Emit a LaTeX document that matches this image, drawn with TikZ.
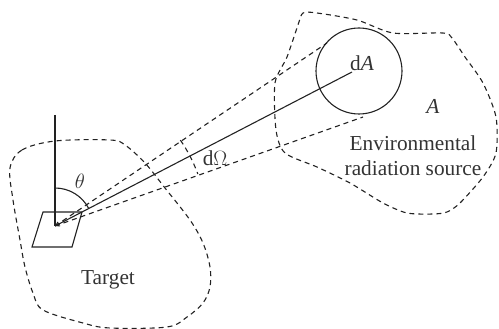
\documentclass[tikz,border=0pt]{standalone}
\usepackage{fontspec}
\setmainfont{Liberation Serif}
\usetikzlibrary{arrows.meta}
\definecolor{ink}{HTML}{222222}
\definecolor{txt}{HTML}{333333}
\tikzset{
  blob/.style={draw=ink, line width=1.1pt, dash pattern=on 5pt off 4pt},
  ray/.style={draw=ink, line width=1.1pt},
  dray/.style={draw=ink, line width=1.1pt, dash pattern=on 5pt off 4pt},
  lbl/.style={text=txt, inner sep=0pt, font=\fontsize{21.3}{25}\selectfont}
}
\begin{document}
\begin{tikzpicture}[x=1pt, y=-1pt]
\useasboundingbox (0,0) rectangle (499,329);
% target region
\draw[blob] plot[smooth cycle, tension=0.55] coordinates {
 (10,168) (22,150) (55,141) (110,140) (125,145) (145,163) (165,188) (190,220)
 (203,243) (210,267) (210,287) (203,303) (187,317) (167,327) (110,328) (83,323)
 (43,310) (33,293) (25,267) (20,240) (13,200)};
% source region
\draw[blob] plot[smooth cycle, tension=0.45] coordinates {
 (303,13) (317,13) (357,20) (393,33) (443,33) (452,38) (465,57) (483,83)
 (496,117) (496,153) (483,177) (460,203) (447,212) (433,214) (407,213)
 (383,203) (350,183) (317,167) (285,153) (276,130) (275,83) (287,57) (298,25)};
% geometry
\coordinate (O) at (55,226);
\coordinate (N) at (55,115);
\coordinate (P) at (352,72);
\coordinate (T1) at (327,43);
\coordinate (T2) at (363,117);
\node[circle, draw=ink, line width=1.1pt, minimum size=86pt, inner sep=0pt] (C) at (359,71) {};
% surface element
\draw[ray] (43,212) -- (82,212) -- (72,247) -- (32,247) -- cycle;
\draw[ray] (N) -- (O);
% rays
\draw[ray, -{Straight Barb[length=3.5pt, width=4.5pt]}] (P) -- (O);
\draw[dray] (O) -- (T1);
\draw[dray] (O) -- (T2);
% angles
\draw[ray] (O) ++(-90:38) arc[start angle=-90, end angle=-27.5, radius=38];
\draw[dray] (O) ++(-34.4:152) arc[start angle=-34.4, end angle=-20, radius=152];
% labels
\node[lbl] (th) at (80,181) {$\theta$};
\node[lbl] (dO) at (215,158) {d$\Omega$};
\node[lbl] (dA) at (362,63) {d\textit{A}};
\node[lbl] (A) at (433,106) {\textit{A}};
\node[lbl, align=center] (src) at (413,156) {Environmental\\radiation source};
\node[lbl] (tg) at (108,280) {Target};
\end{tikzpicture}
\end{document}
